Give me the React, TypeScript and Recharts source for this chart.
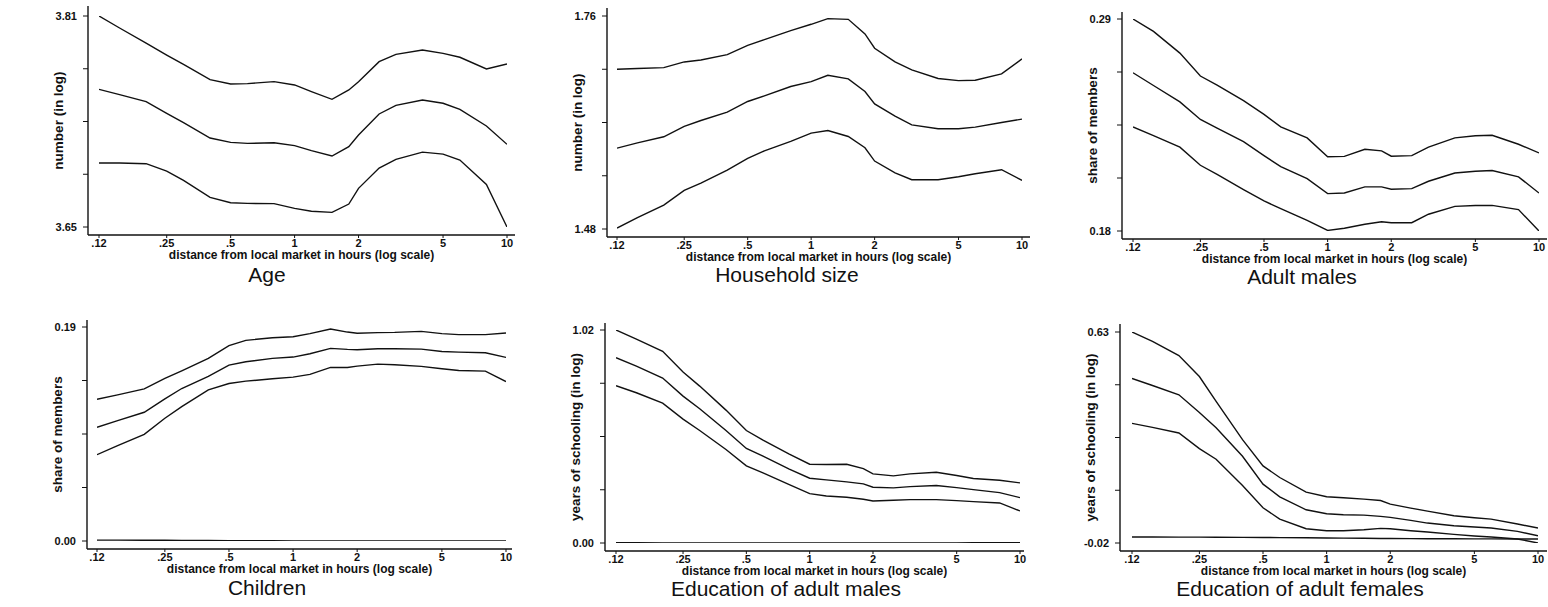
import { LineChart, Line, XAxis, YAxis } from 'recharts';

const FONT = '"Liberation Sans", Arial, sans-serif';

// distance from local market, hours
const hours = [0.12, 0.15, 0.2, 0.25, 0.3, 0.4, 0.5, 0.6, 0.8, 1, 1.2, 1.5, 1.8, 2, 2.5, 3, 4, 5, 6, 8, 10];
const xTicks = [0.12, 0.25, 0.5, 1, 2, 5, 10];
const xTickLabels = ['.12', '.25', '.5', '1', '2', '5', '10'];
const xTitle = 'distance from local market in hours (log scale)';

// Age
const ageUpper = [3.81, 3.8009, 3.7895, 3.7804, 3.7733, 3.7617, 3.7584, 3.7587, 3.7602, 3.7577, 3.7527, 3.7468, 3.7539, 3.7602, 3.7754, 3.7809, 3.7842, 3.7817, 3.7787, 3.7698, 3.7736];
const ageMid = [3.7544, 3.7504, 3.7451, 3.7362, 3.7291, 3.7175, 3.7142, 3.7134, 3.7139, 3.7117, 3.7079, 3.7038, 3.7109, 3.7197, 3.7357, 3.7422, 3.7463, 3.7438, 3.7392, 3.7266, 3.7127];
const ageLower = [3.6985, 3.6985, 3.698, 3.6924, 3.6854, 3.6725, 3.6684, 3.6679, 3.6677, 3.6641, 3.6619, 3.6611, 3.6674, 3.6793, 3.6947, 3.7013, 3.7068, 3.7053, 3.7008, 3.6823, 3.65];
const ageTicks = [3.65, 3.69, 3.73, 3.77, 3.81];

// Household size
const hhUpper = [1.69, 1.6909, 1.6922, 1.6996, 1.7022, 1.7093, 1.7215, 1.729, 1.7408, 1.7491, 1.7565, 1.7556, 1.7364, 1.7176, 1.6996, 1.6891, 1.6778, 1.6751, 1.6756, 1.6839, 1.7036];
const hhMid = [1.5863, 1.5933, 1.6012, 1.6148, 1.6226, 1.6336, 1.6476, 1.655, 1.6673, 1.6738, 1.6821, 1.6773, 1.6607, 1.6445, 1.6283, 1.6169, 1.6117, 1.6117, 1.6139, 1.62, 1.6244];
const hhLower = [1.4813, 1.4949, 1.5115, 1.5308, 1.5404, 1.5574, 1.5728, 1.5828, 1.5951, 1.606, 1.6095, 1.6016, 1.5868, 1.5693, 1.5539, 1.5448, 1.5448, 1.5487, 1.5526, 1.5579, 1.5439];
const hhTicks = [1.48, 1.55, 1.62, 1.69, 1.76];

// Adult males (share of members)
const maleUpper = [0.29, 0.2836, 0.2723, 0.2604, 0.2557, 0.2476, 0.2405, 0.234, 0.2283, 0.2185, 0.2187, 0.2224, 0.2216, 0.2188, 0.2191, 0.2235, 0.2283, 0.2294, 0.2297, 0.225, 0.2205];
const maleMid = [0.2621, 0.2555, 0.247, 0.2379, 0.2334, 0.2264, 0.2191, 0.2134, 0.2072, 0.1994, 0.1997, 0.2029, 0.2029, 0.2017, 0.202, 0.2058, 0.2101, 0.211, 0.2114, 0.2081, 0.1997];
const maleLower = [0.234, 0.2295, 0.2235, 0.2141, 0.2094, 0.2015, 0.1956, 0.1916, 0.1855, 0.1803, 0.1814, 0.1835, 0.1848, 0.1843, 0.1843, 0.1887, 0.1928, 0.1932, 0.1933, 0.1911, 0.18];
const maleTicks = [0.18, 0.2075, 0.235, 0.2625, 0.29];

// Children (share of members)
const childUpper = [0.1259, 0.1297, 0.1351, 0.1443, 0.1511, 0.1621, 0.1734, 0.1781, 0.1805, 0.1814, 0.1841, 0.1882, 0.1855, 0.1844, 0.185, 0.1852, 0.1861, 0.1841, 0.1832, 0.1832, 0.1847];
const childMid = [0.1009, 0.1069, 0.1143, 0.1262, 0.1354, 0.1461, 0.1562, 0.1591, 0.1621, 0.1633, 0.1663, 0.171, 0.1701, 0.1698, 0.1707, 0.1707, 0.1704, 0.1683, 0.1677, 0.1671, 0.163];
const childLower = [0.0766, 0.0846, 0.0947, 0.109, 0.1193, 0.1342, 0.1398, 0.1419, 0.144, 0.1455, 0.1479, 0.1541, 0.1541, 0.1553, 0.157, 0.1565, 0.155, 0.1529, 0.1514, 0.1508, 0.1416];
const childZero = [0.0008, 0.0008, 0.0007, 0.0006, 0.0005, 0.0004, 0.0003, 0.0002, 0.0002, 0.0001, 0.0001, 0.0001, 0, 0, 0, 0, 0, 0, 0, 0, 0];
const childTicks = [0, 0.0475, 0.095, 0.1425, 0.19];

// Education of adult males
const meduUpper = [1.02, 0.9768, 0.9177, 0.8186, 0.7514, 0.6363, 0.5388, 0.4924, 0.4253, 0.3773, 0.3757, 0.3773, 0.3565, 0.3309, 0.3214, 0.3309, 0.339, 0.323, 0.3086, 0.3006, 0.2878];
const meduMid = [0.8873, 0.8473, 0.7898, 0.7035, 0.6427, 0.5388, 0.4525, 0.4157, 0.3533, 0.3102, 0.3022, 0.2926, 0.283, 0.267, 0.2638, 0.2702, 0.275, 0.2654, 0.2558, 0.2414, 0.2174];
const meduLower = [0.753, 0.7194, 0.6699, 0.5931, 0.5388, 0.4477, 0.3693, 0.3357, 0.2798, 0.2366, 0.2254, 0.219, 0.2094, 0.2014, 0.2046, 0.2078, 0.2078, 0.203, 0.1982, 0.1918, 0.1535];
const meduZero = [0.002, 0.001, 0, 0, 0, 0, 0, 0, 0, 0, 0, 0, 0, 0, 0, 0, 0, 0, 0.001, 0.001, 0.001];
const meduTicks = [0, 0.255, 0.51, 0.765, 1.02];

// Education of adult females
const feduUpper = [0.63, 0.6013, 0.5573, 0.4928, 0.4161, 0.2983, 0.2175, 0.1817, 0.1366, 0.1223, 0.1192, 0.1151, 0.111, 0.0998, 0.0875, 0.0783, 0.064, 0.0578, 0.0537, 0.0384, 0.0261];
const feduMid = [0.4867, 0.4652, 0.4365, 0.3823, 0.3352, 0.2472, 0.1612, 0.1223, 0.0824, 0.0701, 0.067, 0.066, 0.0619, 0.0589, 0.0496, 0.0414, 0.0332, 0.0291, 0.0261, 0.0158, 0.0025];
const feduLower = [0.3485, 0.3362, 0.3188, 0.2707, 0.238, 0.1571, 0.0885, 0.0537, 0.024, 0.0179, 0.0179, 0.021, 0.0251, 0.024, 0.0179, 0.0138, 0.0066, 0.0015, -0.0016, -0.0077, -0.02];
const feduZero = [-0.0016, -0.0016, -0.0018, -0.002, -0.0022, -0.0026, -0.003, -0.0035, -0.004, -0.0045, -0.005, -0.0055, -0.006, -0.0062, -0.0065, -0.0068, -0.007, -0.0072, -0.0074, -0.0076, -0.0077];
const feduTicks = [-0.02, 0.1425, 0.305, 0.4675, 0.63];

// layout of each panel, in page pixels
const panels = [
  { title: 'Age', yTitle: 'number (in log)', series: [ageUpper, ageMid, ageLower], yTicks: ageTicks,
    px: 0, py: 0, pw: 520, ph: 300, axisX: 88, plotTop: 6, tickTop: 16, tickBot: 227, axisY: 235, x12: 99, x10: 507, xEnd: 515,
    ylx: 18, yly: 127, tx: 267, ty: 275 },
  { title: 'Household size', yTitle: 'number (in log)', series: [hhUpper, hhMid, hhLower], yTicks: hhTicks,
    px: 520, py: 0, pw: 515, ph: 300, axisX: 607, plotTop: 8, tickTop: 16, tickBot: 229, axisY: 237, x12: 617, x10: 1022, xEnd: 1030,
    ylx: 537, yly: 127, tx: 787, ty: 275 },
  { title: 'Adult males', yTitle: 'share of members', series: [maleUpper, maleMid, maleLower], yTicks: maleTicks,
    px: 1030, py: 0, pw: 518, ph: 300, axisX: 1122, plotTop: 12, tickTop: 19, tickBot: 231, axisY: 239, x12: 1133, x10: 1539, xEnd: 1547,
    ylx: 1053, yly: 128, tx: 1302, ty: 277 },
  { title: 'Children', yTitle: 'share of members', series: [childUpper, childMid, childLower, childZero], yTicks: childTicks,
    px: 0, py: 300, pw: 520, ph: 307, axisX: 87, plotTop: 320, tickTop: 327, tickBot: 541, axisY: 549, x12: 97, x10: 506, xEnd: 512,
    ylx: 17, yly: 439, tx: 267, ty: 588 },
  { title: 'Education of adult males', yTitle: 'years of schooling (in log)', series: [meduUpper, meduMid, meduLower, meduZero], yTicks: meduTicks,
    px: 520, py: 300, pw: 515, ph: 307, axisX: 605, plotTop: 323, tickTop: 330, tickBot: 543, axisY: 551, x12: 616, x10: 1020, xEnd: 1024,
    ylx: 537, yly: 442, tx: 786, ty: 589 },
  { title: 'Education of adult females', yTitle: 'years of schooling (in log)', series: [feduUpper, feduMid, feduLower, feduZero], yTicks: feduTicks,
    px: 1030, py: 300, pw: 518, ph: 307, axisX: 1120, plotTop: 324, tickTop: 332, tickBot: 543, axisY: 551, x12: 1132, x10: 1538, xEnd: 1547,
    ylx: 1053, yly: 442, tx: 1300, ty: 589 },
];

const Y_W = 60;
const X_H = 40;

function YTitle({ text, x, y }: { text: string; x: number; y: number }) {
  return (
    <text x={x} y={y} transform={`rotate(-90 ${x} ${y})`} textAnchor="middle" dominantBaseline="central"
      fill="#111" fontSize={13.5} fontWeight={700} fontFamily={FONT}>
      {text}
    </text>
  );
}

function Panel({ p }: { p: any }) {
  const data = hours.map((h, i) => {
    const row: any = { h };
    p.series.forEach((s: number[], k: number) => { row['s' + k] = s[i]; });
    return row;
  });
  const margin = {
    top: p.plotTop - p.py,
    left: p.axisX - p.px - Y_W,
    right: p.px + p.pw - p.xEnd,
    bottom: p.ph - (p.axisY - p.py) - X_H,
  };
  const yt: number[] = p.yTicks;
  const fmtY = (v: number) => (v === yt[0] || v === yt[yt.length - 1] ? v.toFixed(2) : '');
  const tickStyle = { fill: '#111', fontSize: 11, fontWeight: 700, fontFamily: FONT };
  return (
    <div style={{ position: 'absolute', left: p.px, top: p.py, width: p.pw, height: p.ph }}>
      <LineChart width={p.pw} height={p.ph} data={data} margin={margin}>
        <XAxis dataKey="h" type="number" scale="log" domain={[0.12, 10]} ticks={xTicks} interval={0}
          tickFormatter={(v: number) => xTickLabels[xTicks.indexOf(v)]}
          padding={{ left: p.x12 - p.axisX, right: p.xEnd - p.x10 }} height={X_H}
          tickSize={3} tickMargin={1} tick={tickStyle} allowDataOverflow
          axisLine={{ stroke: '#111', strokeWidth: 1.4 }} tickLine={{ stroke: '#111' }}
          label={{ value: xTitle, position: 'center', dy: 0, fill: '#111', fontSize: 12, fontWeight: 700, fontFamily: FONT }} />
        <YAxis type="number" domain={[yt[0], yt[yt.length - 1]]} ticks={yt} interval={0} width={Y_W}
          tickFormatter={fmtY} padding={{ top: p.tickTop - p.plotTop, bottom: p.axisY - p.tickBot }}
          tickSize={5} tickMargin={6} tick={tickStyle} allowDataOverflow
          axisLine={{ stroke: '#111', strokeWidth: 1.4 }} tickLine={{ stroke: '#111' }}
          label={<YTitle text={p.yTitle} x={p.ylx - p.px} y={p.yly - p.py} />} />
        {p.series.map((_: number[], k: number) => (
          <Line key={k} dataKey={'s' + k} type="linear" dot={false} stroke="#111" strokeWidth={1.4} isAnimationActive={false} />
        ))}
      </LineChart>
      <div style={{ position: 'absolute', left: p.tx - p.px - 200, top: p.ty - p.py - 13, width: 400, height: 26,
        lineHeight: '26px', textAlign: 'center', fontFamily: FONT, fontSize: 21, color: '#111' }}>
        {p.title}
      </div>
    </div>
  );
}

export default function App() {
  return (
    <div style={{ position: 'absolute', left: 0, top: 0, width: 1548, height: 607, background: '#fff' }}>
      {panels.map((p) => <Panel key={p.title} p={p} />)}
    </div>
  );
}
